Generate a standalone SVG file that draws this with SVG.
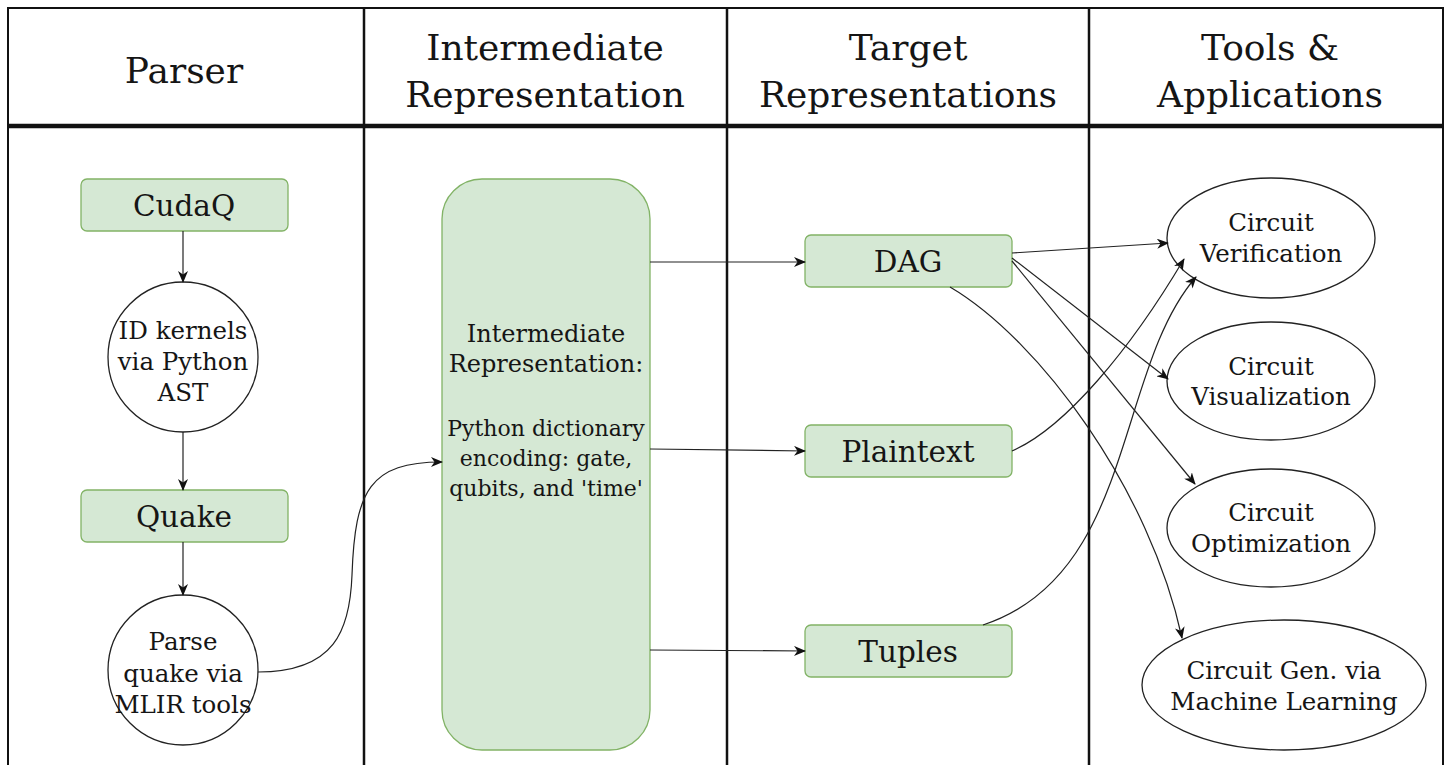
<svg xmlns="http://www.w3.org/2000/svg" width="1450" height="765" viewBox="0 0 1450 765">
  <style>
    text { font-family: "DejaVu Serif", "Liberation Serif", serif; fill: #151515; text-anchor: middle; dominant-baseline: central; }
    .hdr { font-size: 36px; }
    .box { fill: #d5e8d4; stroke: #82b366; stroke-width: 1.3; }
    .box-t { font-size: 29.5px; }
    .ring { fill: #ffffff; stroke: #222222; stroke-width: 1.3; }
    .ring-t { font-size: 24.5px; }
    .ir-t1 { font-size: 24px; }
    .ir-t2 { font-size: 22px; }
    .edge { fill: none; stroke: #222222; stroke-width: 1.2; marker-end: url(#arrow); }
    .grid { stroke: #111111; fill: none; }
  </style>
  <defs>
    <marker id="arrow" viewBox="0 0 12 10" refX="11" refY="5" markerWidth="12" markerHeight="10" markerUnits="userSpaceOnUse" orient="auto">
      <path d="M0,0 L12,5 L0,10 L3.5,5 Z" fill="#111111"/>
    </marker>
  </defs>

  <rect width="1450" height="765" fill="#ffffff"/>

  <!-- swimlane frame -->
  <g id="lanes">
    <path class="grid" stroke-width="2" d="M8,770 V8 H1443 V770"/>
    <line class="grid" x1="8" y1="126" x2="1443" y2="126" stroke-width="4.5"/>
    <line class="grid" x1="364" y1="8" x2="364" y2="770" stroke-width="2.5"/>
    <line class="grid" x1="727" y1="8" x2="727" y2="770" stroke-width="2.5"/>
    <line class="grid" x1="1089" y1="8" x2="1089" y2="770" stroke-width="2.5"/>
    <text class="hdr" x="184" y="70">Parser</text>
    <text class="hdr" x="545" y="47">Intermediate</text>
    <text class="hdr" x="545" y="94">Representation</text>
    <text class="hdr" x="908" y="47">Target</text>
    <text class="hdr" x="908" y="94">Representations</text>
    <text class="hdr" x="1270" y="47">Tools &amp;</text>
    <text class="hdr" x="1270" y="94">Applications</text>
  </g>

  <!-- parser column -->
  <g id="cudaq">
    <rect class="box" x="81" y="179" width="207" height="52" rx="6"/>
    <text class="box-t" x="184" y="206">CudaQ</text>
  </g>
  <g id="id-kernels">
    <circle class="ring" cx="183" cy="357" r="75"/>
    <text class="ring-t" x="183" y="330">ID kernels</text>
    <text class="ring-t" x="183" y="361">via Python</text>
    <text class="ring-t" x="183" y="392">AST</text>
  </g>
  <g id="quake">
    <rect class="box" x="81" y="490" width="207" height="52" rx="6"/>
    <text class="box-t" x="184" y="517">Quake</text>
  </g>
  <g id="parse-quake">
    <circle class="ring" cx="183" cy="670" r="75"/>
    <text class="ring-t" x="183" y="641">Parse</text>
    <text class="ring-t" x="183" y="673">quake via</text>
    <text class="ring-t" x="183" y="704">MLIR tools</text>
  </g>

  <!-- intermediate representation -->
  <g id="ir">
    <rect class="box" x="442" y="179" width="208" height="571" rx="40"/>
    <text class="ir-t1" x="546" y="334">Intermediate</text>
    <text class="ir-t1" x="546" y="364">Representation:</text>
    <text class="ir-t2" x="546" y="428">Python dictionary</text>
    <text class="ir-t2" x="546" y="458">encoding: gate,</text>
    <text class="ir-t2" x="546" y="488">qubits, and 'time'</text>
  </g>

  <!-- target representations -->
  <g id="dag">
    <rect class="box" x="805" y="235" width="207" height="52" rx="6"/>
    <text class="box-t" x="908" y="262">DAG</text>
  </g>
  <g id="plaintext">
    <rect class="box" x="805" y="425" width="207" height="52" rx="6"/>
    <text class="box-t" x="908" y="452">Plaintext</text>
  </g>
  <g id="tuples">
    <rect class="box" x="805" y="625" width="207" height="52" rx="6"/>
    <text class="box-t" x="908" y="652">Tuples</text>
  </g>

  <!-- tools and applications -->
  <g id="verification">
    <ellipse class="ring" cx="1271" cy="238" rx="104" ry="60"/>
    <text class="ring-t" x="1271" y="222">Circuit</text>
    <text class="ring-t" x="1271" y="253">Verification</text>
  </g>
  <g id="visualization">
    <ellipse class="ring" cx="1271" cy="381" rx="104" ry="59"/>
    <text class="ring-t" x="1271" y="366">Circuit</text>
    <text class="ring-t" x="1271" y="396">Visualization</text>
  </g>
  <g id="optimization">
    <ellipse class="ring" cx="1271" cy="528" rx="104" ry="59"/>
    <text class="ring-t" x="1271" y="512">Circuit</text>
    <text class="ring-t" x="1271" y="543">Optimization</text>
  </g>
  <g id="ml-generation">
    <ellipse class="ring" cx="1284" cy="685" rx="142" ry="65"/>
    <text class="ring-t" x="1284" y="670">Circuit Gen. via</text>
    <text class="ring-t" x="1284" y="701">Machine Learning</text>
  </g>

  <!-- connectors -->
  <g id="connectors">
    <path class="edge" d="M183,231 V282"/>
    <path class="edge" d="M183,432 V490"/>
    <path class="edge" d="M183,542 V595"/>
    <path class="edge" d="M258,672 C335,672 350,630 352,575 C355,490 370,462 442,462"/>
    <path class="edge" d="M650,262 H805"/>
    <path class="edge" d="M650,449 L805,451"/>
    <path class="edge" d="M650,650 L805,651"/>
    <path class="edge" d="M1012,253 L1168,243"/>
    <path class="edge" d="M1012,258 L1168,379"/>
    <path class="edge" d="M1012,261 L1195,484"/>
    <path class="edge" d="M950,287 C1040,340 1150,490 1182,638"/>
    <path class="edge" d="M1012,451 C1065,428 1130,350 1184,259"/>
    <path class="edge" d="M983,625 C1135,575 1115,370 1196,277"/>
  </g>
</svg>
